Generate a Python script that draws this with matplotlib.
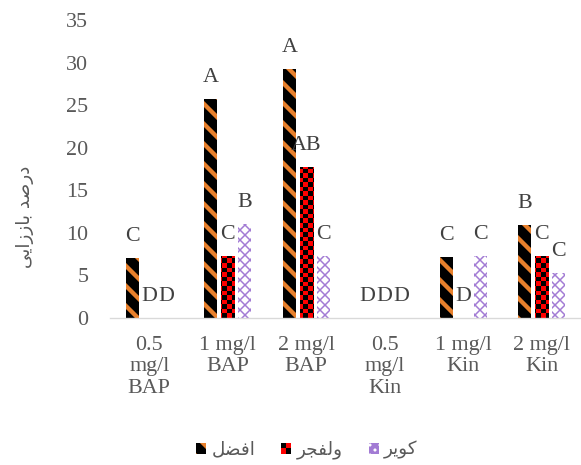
import matplotlib.pyplot as plt
import numpy as np
from matplotlib.patches import Patch, Rectangle
from matplotlib.legend_handler import HandlerBase

# data
categories = ['0.5\nmg/l\nBAP', '1 mg/l\nBAP', '2 mg/l\nBAP',
              '0.5\nmg/l\nKin', '1 mg/l\nKin', '2 mg/l\nKin']
afzal = [7.1, 25.7, 29.3, 0, 7.2, 10.9]
valfajr = [0, 7.3, 17.7, 0, 0, 7.3]
kavir = [0, 11.0, 7.3, 0, 7.3, 5.3]
afzal_letters = ['C', 'A', 'A', 'D', 'C', 'B']
valfajr_letters = ['D', 'C', 'AB', 'D', 'D', 'C']
kavir_letters = ['D', 'B', 'C', 'D', 'C', 'C']
yticks = [0, 5, 10, 15, 20, 25, 30, 35]

# Persian text in visual order with presentation forms (matplotlib does no shaping)
name_afzal = '\uFEDE\uFEC0\uFED3\uFE8D'           # افضل
name_valfajr = '\uFEAE\uFEA0\uFED4\uFEDF\uFEED'   # ولفجر
name_kavir = '\uFEAE\uFBFE\uFEEE\uFB90'           # کویر
ylabel = '\uFBFD\uFBFE\uFE8D\uFEAF\uFEAF\uFE8E\uFE91 \uFEAA\uFEBB\uFEAD\uFEA9'  # درصد باززایی

DPI = 120
W, H = 581, 465
fig = plt.figure(figsize=(W / DPI, H / DPI), dpi=DPI)
ax_l, ax_b, ax_w, ax_h = 110, 318, 471, 298
ax = fig.add_axes([ax_l / W, 1 - ax_b / H, ax_w / W, ax_h / H])

serif = 'Liberation Serif'
orange = '#E8802C'
purple = '#A27BD4'
x = np.arange(len(categories))
bw = 0.166
step = 0.2166


def set_hlw(bars, lw):
    for b in bars:
        if hasattr(b, 'set_hatch_linewidth'):
            b.set_hatch_linewidth(lw)


plt.rcParams['hatch.linewidth'] = 2.6
b1 = ax.bar(x - step, afzal, bw, color='black', edgecolor=orange,
            linewidth=0, hatch='\\\\')
set_hlw(b1, 2.6)

b2 = ax.bar(x, valfajr, bw, color='red', linewidth=0)
# checkerboard texture clipped to each red bar
cell = 4.5
nx, ny = int(round(ax_w / cell)), int(round(ax_h / cell))
chk = (np.add.outer(np.arange(ny), np.arange(nx)) % 2).astype(float)
rgb = np.zeros((ny, nx, 3))
rgb[chk == 1] = [1, 0, 0]
for b in b2:
    if b.get_height() > 0:
        im = ax.imshow(rgb, extent=[0, 1, 0, 1], transform=ax.transAxes,
                       interpolation='nearest', aspect='auto', zorder=2)
        im.set_clip_path(b)

b3 = ax.bar(x + step, kavir, bw, color='white', edgecolor=purple,
            linewidth=0, hatch='xxxx')
set_hlw(b3, 0.9)

for off, vals, letters in [(-step, afzal, afzal_letters),
                           (0, valfajr, valfajr_letters),
                           (step, kavir, kavir_letters)]:
    for xi, v, t in zip(x + off, vals, letters):
        ax.annotate(t, (xi, v), xytext=(0, 10.2), textcoords='offset points',
                    ha='center', va='baseline', fontsize=13.2,
                    family=serif, color='#404040', zorder=5)

ax.set_xlim(-0.5, len(categories) - 0.5)
ax.set_ylim(0, 35)
ax.set_yticks(yticks)
ax.set_xticks(x)
ax.set_xticklabels(categories, linespacing=1.15)
for lab in ax.get_xticklabels() + ax.get_yticklabels():
    lab.set_fontfamily(serif)
    lab.set_fontsize(13.2)
    lab.set_color('#595959')
ax.tick_params(axis='x', length=0, pad=11)
ax.tick_params(axis='y', length=0, pad=13)
for s in ['left', 'right', 'top']:
    ax.spines[s].set_visible(False)
ax.spines['bottom'].set_color('#D9D9D9')
ax.spines['bottom'].set_linewidth(0.8)
ax.spines['bottom'].set_zorder(6)

fig.text(25 / W, 1 - 217 / H, ylabel, rotation=90, ha='center', va='center',
         fontsize=11, family='DejaVu Sans', color='#595959')


class CheckerHandler(HandlerBase):
    def create_artists(self, legend, orig_handle, xd, yd, w, h, fontsize, trans):
        arts = []
        for i in range(2):
            for j in range(2):
                c = 'black' if (i + j) % 2 else 'red'
                arts.append(Rectangle((-xd + i * w / 2, -yd + j * h / 2), w / 2, h / 2,
                                      facecolor=c, edgecolor='none', transform=trans))
        return arts


h1 = Patch(facecolor='black', edgecolor=orange, linewidth=0, hatch='\\\\')
h2 = Patch(facecolor='red')
h3 = Patch(facecolor='white', edgecolor=purple, linewidth=0, hatch='xxxx')
leg = fig.legend([h1, h2, h3], [name_afzal, name_valfajr, name_kavir],
                 loc='center', bbox_to_anchor=(307 / W, 1 - 450 / H), ncol=3,
                 frameon=False, prop={'family': 'DejaVu Sans', 'size': 11},
                 handlelength=0.55, handleheight=0.55, handletextpad=0.3,
                 columnspacing=1.4, handler_map={h2: CheckerHandler()})
for t in leg.get_texts():
    t.set_color('#595959')

fig.savefig('out.png', dpi=DPI)
